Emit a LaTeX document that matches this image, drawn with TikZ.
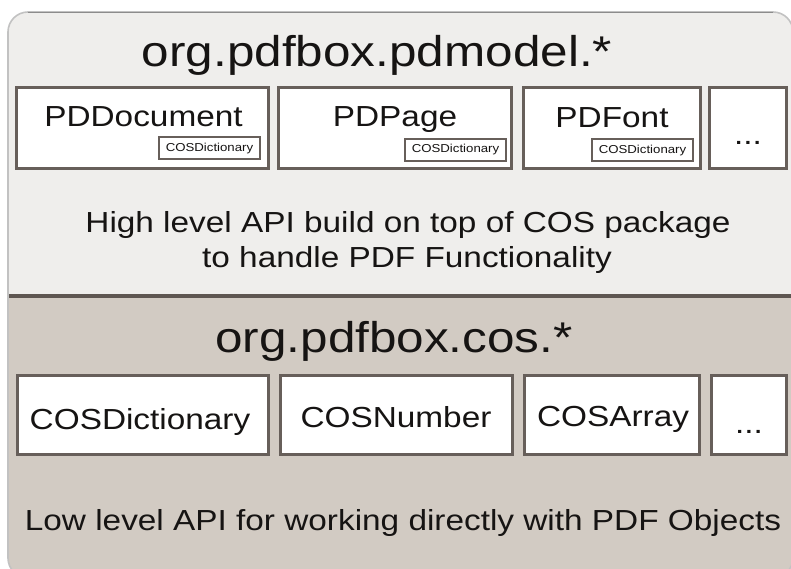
\documentclass[tikz,border=0pt]{standalone}
\usepackage{fontspec}
\setmainfont{Liberation Sans}
\usepackage{graphicx}
% text in this figure is set slightly wide
\newcommand{\widetext}[1]{\scalebox{1.15}[1]{#1}}
\definecolor{topfill}{HTML}{EFEEEC}
\definecolor{botfill}{HTML}{D2CBC3}
\definecolor{edge}{HTML}{675F5A}
\definecolor{ink}{HTML}{161413}
\definecolor{divider}{HTML}{5E5651}
\definecolor{rim}{HTML}{C2C2C2}
\definecolor{rimtop}{HTML}{8C8C8C}
\tikzset{
  classbox/.style={draw=edge, line width=2.8pt, fill=white, inner sep=0pt},
  tagbox/.style={draw=edge, line width=2pt, fill=white, inner sep=0pt,
    minimum width=101pt, minimum height=22pt, text=ink,
    font=\fontsize{11.5}{12}\selectfont},
  pkgtitle/.style={anchor=base, inner sep=0pt, text=ink,
    font=\fontsize{43}{48}\selectfont},
  classname/.style={anchor=base, inner sep=0pt, text=ink,
    font=\fontsize{29}{33}\selectfont},
}
\begin{document}
\begin{tikzpicture}[x=1pt, y=-1pt]
  \useasboundingbox (0,0) rectangle (791,569);
  \clip (0,0) rectangle (791,569);
  \fill[white] (0,0) rectangle (791,569);

  % card: light upper layer, beige lower layer
  \fill[botfill, rounded corners=20pt] (8,12) rectangle (793,578);
  \begin{scope}
    \clip[rounded corners=20pt] (8,12) rectangle (793,578);
    \fill[topfill] (0,0) rectangle (800,296);
  \end{scope}
  \draw[rim, line width=1.6pt, rounded corners=20pt] (8,12) rectangle (793,578);
  \draw[rimtop, line width=1.3pt] (28,12.6) -- (773,12.6);
  \draw[divider, line width=4.5pt] (8.8,296) -- (793,296);

  % ---- upper layer: org.pdfbox.pdmodel.*
  \node[pkgtitle] (pdmodel) at (377,67) {\widetext{org.pdfbox.pdmodel.*}};

  \node[classbox, minimum width=252.2pt, minimum height=81.2pt] (pddoc)  at (142.5,128) {};
  \node[classbox, minimum width=233.2pt, minimum height=81.2pt] (pdpage) at (395,128) {};
  \node[classbox, minimum width=177.2pt, minimum height=81.2pt] (pdfont) at (612,128) {};
  \node[classbox, minimum width=77.2pt,  minimum height=81.2pt] (pdmore) at (748,128) {};

  \node[classname] (pddoctxt)  at (143.5,127) {\widetext{PDDocument}};
  \node[classname] (pdpagetxt) at (395,127)   {\widetext{PDPage}};
  \node[classname] (pdfonttxt) at (612,128)   {\widetext{PDFont}};
  \node[classname] (pdmoretxt) at (748,145)   {\widetext{...}};

  \node[tagbox] (tagdoc)  at (209.5,148.5) {\widetext{COSDictionary}};
  \node[tagbox] (tagpage) at (455.5,150)   {\widetext{COSDictionary}};
  \node[tagbox] (tagfont) at (642.5,150.5) {\widetext{COSDictionary}};

  \node[classname] (hightxta) at (408,233) {\widetext{High level API build on top of COS package}};
  \node[classname] (hightxtb) at (407,267) {\widetext{to handle PDF Functionality}};

  % ---- lower layer: org.pdfbox.cos.*
  \node[pkgtitle] (cospkg) at (394,352) {\widetext{org.pdfbox.cos.*}};

  \node[classbox, minimum width=251.2pt, minimum height=79.2pt] (cosdict) at (143,415) {};
  \node[classbox, minimum width=232.2pt, minimum height=79.2pt] (cosnum)  at (396.5,415) {};
  \node[classbox, minimum width=175.2pt, minimum height=79.2pt] (cosarr)  at (612,415) {};
  \node[classbox, minimum width=75.2pt,  minimum height=79.2pt] (cosmore) at (749,415) {};

  \node[classname] (cosdicttxt) at (140,429) {\widetext{COSDictionary}};
  \node[classname] (cosnumtxt)  at (396,427) {\widetext{COSNumber}};
  \node[classname] (cosarrtxt)  at (613,426) {\widetext{COSArray}};
  \node[classname] (cosmoretxt) at (749,433) {\widetext{...}};

  \node[classname] (lowtxt) at (403,530) {\widetext{Low level API for working directly with PDF Objects}};
\end{tikzpicture}
\end{document}
